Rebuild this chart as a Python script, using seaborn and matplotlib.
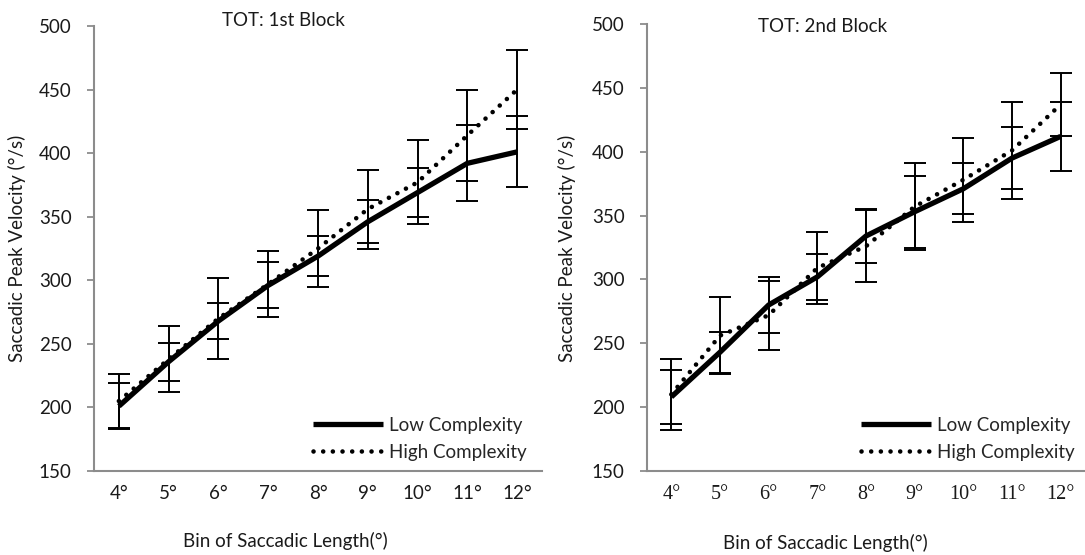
import matplotlib
matplotlib.use("Agg")
import matplotlib.pyplot as plt
import seaborn as sns
import pandas as pd
import numpy as np

bins = ["4°", "5°", "6°", "7°", "8°", "9°", "10°", "11°", "12°"]

block1_low = [201, 236, 268, 296, 319, 346, 369, 392, 401]
block1_low_err = [18, 15, 14, 18, 16, 17, 19, 30, 28]
block1_high = [205, 238, 270, 297, 325, 356, 377, 414, 450]
block1_high_err = [21, 26, 32, 26, 30, 31, 33, 36, 31]

block2_low = [208, 243, 280, 302, 334, 353, 371, 395, 412]
block2_low_err = [21, 16, 22, 18, 21, 28, 20, 24, 27]
block2_high = [210, 256, 272, 309, 326, 357, 378, 401, 437]
block2_high_err = [28, 30, 27, 28, 28, 34, 33, 38, 25]

titles = ["TOT: 1st Block", "TOT: 2nd Block"]
series_names = ["Low Complexity", "High Complexity"]
y_ticks = [150, 200, 250, 300, 350, 400, 450, 500]

sns.set_theme(style="white")
plt.rcParams["font.family"] = ["Lato", "DejaVu Sans"]

W, H = 1085, 555
fig = plt.figure(figsize=(W / 100, H / 100), dpi=100)

axes_px = [(94, 542), (647, 1085)]
axes_y = [(26, 471), (24, 471)]
legend_anchor = [(527, 461), (1075, 461)]
spine_col = "#8c8c8c"
txt_col = "#1a1a1a"
FS = 13.5

blocks = [
    (block1_low, block1_low_err, block1_high, block1_high_err),
    (block2_low, block2_low_err, block2_high, block2_high_err),
]

for k, ((x0, x1), (top_px, bot_px), (lo, loe, hi, hie)) in enumerate(zip(axes_px, axes_y, blocks)):
    ax = fig.add_axes([x0 / W, (H - bot_px) / H, (x1 - x0) / W, (bot_px - top_px) / H])
    x = np.arange(len(bins))
    df = pd.DataFrame({"x": np.concatenate([x, x]),
                       "v": lo + hi,
                       "s": [series_names[0]] * len(bins) + [series_names[1]] * len(bins)})
    sns.lineplot(data=df[df.s == series_names[0]], x="x", y="v", ax=ax, color="black",
                 lw=3.8, solid_capstyle="butt", label=series_names[0])
    sns.lineplot(data=df[df.s == series_names[1]], x="x", y="v", ax=ax, color="black",
                 lw=3.3, linestyle=(0, (0.01, 2.1)), dash_capstyle="round",
                 label=series_names[1])
    ax.errorbar(x, lo, yerr=loe, fmt="none", ecolor="black", elinewidth=1.4,
                capsize=8, capthick=1.4)
    ax.errorbar(x, hi, yerr=hie, fmt="none", ecolor="black", elinewidth=1.4,
                capsize=8, capthick=1.4)

    ax.set_xlim(-0.5, len(bins) - 0.5)
    ax.set_ylim(150, 500)
    ax.set_yticks(y_ticks)
    ax.set_yticklabels([str(t) for t in y_ticks], fontsize=FS, color=txt_col)
    ax.set_xticks(x)
    tick_font = "Lato" if k == 0 else "Liberation Serif"
    ax.set_xticklabels(bins, fontsize=FS + 1 if k else FS, color=txt_col, family=tick_font)
    ax.set_xticks(np.arange(-0.5, len(bins), 1.0), minor=True)
    ax.tick_params(axis="x", which="major", length=0, pad=10)
    ax.tick_params(axis="x", which="minor", length=5, width=1.3, color=spine_col, direction="out")
    ax.tick_params(axis="y", which="major", length=5, width=1.3, color=spine_col,
                   direction="out", left=True, pad=11)
    for s in ["top", "right"]:
        ax.spines[s].set_visible(False)
    for s in ["left", "bottom"]:
        ax.spines[s].set_color(spine_col)
        ax.spines[s].set_linewidth(1.5)
    ax.set_xlabel("")
    ax.set_ylabel("")

    axp, ayp = legend_anchor[k]
    ax.legend(loc="lower right",
              bbox_to_anchor=((axp - x0) / (x1 - x0), (bot_px - ayp) / (bot_px - top_px)),
              frameon=False, fontsize=FS, handlelength=3.75, handletextpad=0.35,
              labelspacing=0.55, borderaxespad=0, borderpad=0)

fig.text(283 / W, 1 - 20 / H, titles[0], ha="center", va="center", fontsize=FS, color=txt_col)
fig.text(823 / W, 1 - 27 / H, titles[1], ha="center", va="center", fontsize=FS, color=txt_col)
fig.text(285 / W, 1 - 541 / H, "Bin of Saccadic Length(°)", ha="center", va="center",
         fontsize=FS, color=txt_col)
fig.text(825 / W, 1 - 543 / H, "Bin of Saccadic Length(°)", ha="center", va="center",
         fontsize=FS, color=txt_col)
fig.text(17 / W, 1 - 248 / H, "Saccadic Peak Velocity (°/s)", rotation=90, ha="center",
         va="center", fontsize=FS, color=txt_col)
fig.text(567 / W, 1 - 248 / H, "Saccadic Peak Velocity (°/s)", rotation=90, ha="center",
         va="center", fontsize=FS, color=txt_col)

fig.savefig("out.png", dpi=100, facecolor="white")
